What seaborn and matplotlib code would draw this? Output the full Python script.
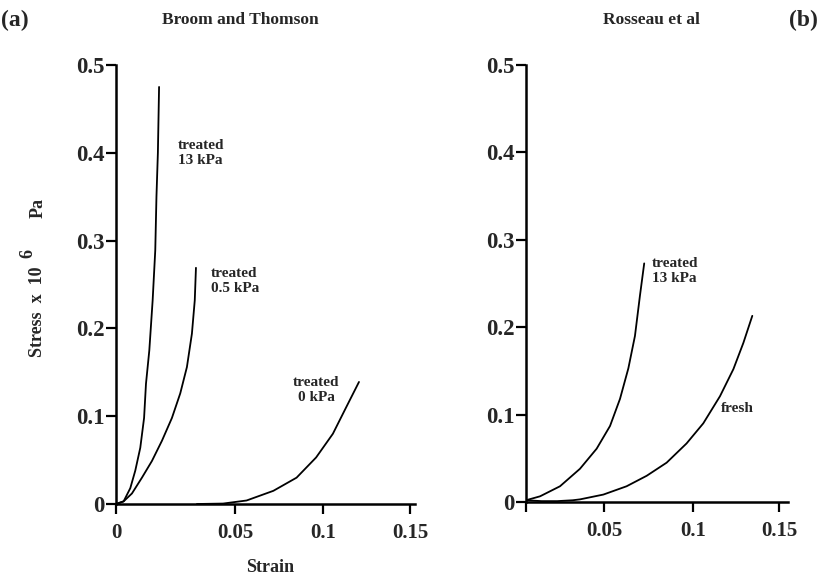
import numpy as np
import pandas as pd
import matplotlib
matplotlib.use("Agg")
import matplotlib.pyplot as plt
import seaborn as sns

# ---------------- data ----------------
a_13_strain = [0, 0.0032, 0.0060, 0.0081, 0.0102, 0.0118, 0.0126, 0.0140, 0.0154, 0.0165,
               0.0170, 0.0176, 0.0181]
a_13_stress = [0, 0.003, 0.018, 0.038, 0.064, 0.098, 0.137, 0.175, 0.232, 0.289,
               0.350, 0.400, 0.475]

a_05_strain = [0, 0.0032, 0.0067, 0.0109, 0.0151, 0.0193, 0.0235, 0.0270, 0.0298, 0.0319,
               0.0331, 0.0336]
a_05_stress = [0, 0.003, 0.012, 0.030, 0.049, 0.072, 0.098, 0.126, 0.156, 0.194,
               0.232, 0.269]

a_00_strain = [0.034, 0.045, 0.0566, 0.0718, 0.0850, 0.0961, 0.1057, 0.1133, 0.1207]
a_00_stress = [0, 0.0005, 0.004, 0.015, 0.030, 0.053, 0.080, 0.110, 0.139]

b_13_strain = [0, 0.009, 0.0218, 0.0346, 0.0453, 0.0534, 0.0590, 0.0637, 0.0674, 0.0702, 0.0726]
b_13_stress = [0.002, 0.0065, 0.018, 0.038, 0.061, 0.087, 0.118, 0.153, 0.190, 0.236, 0.273]

b_fr_strain = [0, 0.01, 0.02, 0.03, 0.0346, 0.0496, 0.0627, 0.0740, 0.0852, 0.0964, 0.106,
               0.1157, 0.1235, 0.1293, 0.1345]
b_fr_stress = [0.002, 0.001, 0.001, 0.002, 0.003, 0.0085, 0.018, 0.030, 0.045, 0.067, 0.090,
               0.121, 0.152, 0.182, 0.213]

y_ticks = [0, 0.1, 0.2, 0.3, 0.4, 0.5]
y_ticklabels = ["0", "0.1", "0.2", "0.3", "0.4", "0.5"]
x_ticks = [0, 0.05, 0.1, 0.15]
a_xticklabels = ["0", "0.05", "0.1", "0.15"]
b_xticklabels = ["", "0.05", "0.1", "0.15"]

# the strain axis drawn in the original is not evenly spaced: knots of the drawn scale
a_scale_knots = [-0.05, 0, 0.05, 0.10, 0.15, 0.20]
a_scale_pos = [-119, 0, 119, 207, 294, 381]
b_scale_knots = [-0.05, 0, 0.05, 0.10, 0.15, 0.20]
b_scale_pos = [-78, 0, 78, 167, 253, 340]

# ---------------- style ----------------
sns.set_style("ticks")
FONT = ["Liberation Serif", "DejaVu Serif"]
plt.rcParams["font.family"] = FONT
plt.rcParams["font.weight"] = "bold"

W, H = 830, 579
fig = plt.figure(figsize=(W / 100, H / 100), dpi=100)


def px_axes(x0, x1, y0, y1):
    return fig.add_axes([x0 / W, 1 - y1 / H, (x1 - x0) / W, (y1 - y0) / H])


def ftext(x, y, s, **kw):
    fig.text(x / W, 1 - y / H, s, fontweight="bold", **kw)


def make_scale(knots, pos):
    k = np.asarray(knots, float)
    p = np.asarray(pos, float)
    fwd = lambda v: np.interp(v, k, p)
    inv = lambda v: np.interp(v, p, k)
    return fwd, inv


def style_axes(ax, xlabels, xmax, knots, pos):
    ax.set_xscale("function", functions=make_scale(knots, pos))
    ax.set_xlim(0, xmax)
    ax.set_ylim(0, 0.5)
    ax.set_xticks(x_ticks)
    ax.set_xticklabels(xlabels)
    ax.set_yticks(y_ticks)
    ax.set_yticklabels(y_ticklabels)
    ax.xaxis.set_minor_locator(matplotlib.ticker.NullLocator())
    ax.tick_params(axis="both", which="major", direction="out", length=7,
                   width=1.6, color="black")
    ax.tick_params(axis="x", labelsize=15, pad=7)
    ax.tick_params(axis="y", labelsize=16.5, pad=1)
    for lab in ax.get_xticklabels() + ax.get_yticklabels():
        lab.set_fontweight("bold")
    for s in ["left", "bottom"]:
        ax.spines[s].set_linewidth(1.8)
        ax.spines[s].set_color("black")
    sns.despine(ax=ax)
    ax.set_xlabel("")
    ax.set_ylabel("")
    ax.patch.set_alpha(0)


def frame(strain, stress, name):
    return pd.DataFrame({"strain": strain, "stress": stress, "series": name})


# ---------------- panel (a) ----------------
axa = px_axes(116, 415, 65, 504)
dfa = pd.concat([frame(a_13_strain, a_13_stress, "treated 13 kPa"),
                 frame(a_05_strain, a_05_stress, "treated 0.5 kPa"),
                 frame(a_00_strain, a_00_stress, "treated 0 kPa")])
sns.lineplot(data=dfa, x="strain", y="stress", units="series", estimator=None,
             sort=False, color="black", linewidth=1.3, ax=axa, legend=False)
style_axes(axa, a_xticklabels, 0.1529, a_scale_knots, a_scale_pos)

# ---------------- panel (b) ----------------
axb = px_axes(526, 788, 65, 502)
dfb = pd.concat([frame(b_13_strain, b_13_stress, "treated 13 kPa"),
                 frame(b_fr_strain, b_fr_stress, "fresh")])
sns.lineplot(data=dfb, x="strain", y="stress", units="series", estimator=None,
             sort=False, color="black", linewidth=1.3, ax=axb, legend=False)
style_axes(axb, b_xticklabels, 0.1552, b_scale_knots, b_scale_pos)

# ---------------- texts ----------------
ftext(15, 20, "(a)", fontsize=17, ha="center", va="center")
ftext(803, 20, "(b)", fontsize=17, ha="center", va="center")
ftext(240, 20, "Broom and Thomson", fontsize=12.5, ha="center", va="center")
ftext(651, 20, "Rosseau et al", fontsize=12.5, ha="center", va="center")
ftext(270, 567, "Strain", fontsize=13, ha="center", va="center")

# y label: "Stress x 10" with a raised "6" and "Pa"
ftext(38, 312, "Stress  x  10", fontsize=13, ha="center", va="center", rotation=90)
ftext(28, 253, "6", fontsize=13, ha="center", va="center", rotation=90)
ftext(38, 208, "Pa", fontsize=13, ha="center", va="center", rotation=90)

ann = dict(fontsize=11, va="center", linespacing=1.15)
ftext(178, 153, "treated\n13 kPa", ha="left", **ann)
ftext(211, 281, "treated\n0.5 kPa", ha="left", **ann)
ftext(316, 390, "treated\n0 kPa", ha="center", multialignment="center", **ann)
ftext(652, 271, "treated\n13 kPa", ha="left", **ann)
ftext(737, 409, "fresh", ha="center", fontsize=11, va="center")

fig.savefig("out.png", dpi=100)
